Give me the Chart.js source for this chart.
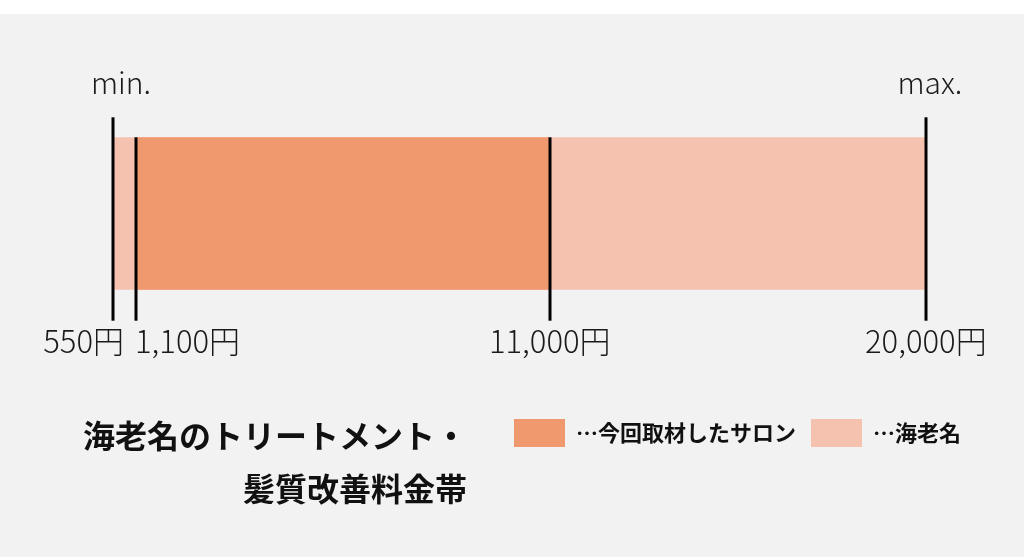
<!DOCTYPE html>
<html lang="ja">
<head>
<meta charset="utf-8">
<title>海老名のトリートメント・髪質改善料金帯</title>
<script src="https://cdn.jsdelivr.net/npm/chart.js@4/dist/chart.umd.min.js"></script>
<style>
  html, body { margin: 0; padding: 0; background: #ffffff; }
  #chart { display: block; }
</style>
</head>
<body>
<canvas id="chart" width="1024" height="557"></canvas>
<script>
// ---- データ ----
const seriesNames = ["…今回取材したサロン", "…海老名"];
const salonRange = [1100, 11000];
const areaRange = [550, 20000];
const tickValues = [550, 1100, 11000, 20000];
const tickLabels = ["550円", "1,100円", "11,000円", "20,000円"];
const endLabels = ["min.", "max."];
const titleLines = ["海老名のトリートメント・", "髪質改善料金帯"];

const JP = '"Noto Sans CJK JP", "Noto Sans", sans-serif';
const DARK = "#f0996f";
const LIGHT = "#f6c2b0";
const BG = "#f2f2f2";

// 背景・目盛り線・ラベル・タイトルを描く
const rangeDecor = {
  id: "rangeDecor",
  beforeDraw(chart) {
    const { ctx, width, height } = chart;
    ctx.save();
    ctx.fillStyle = BG;
    ctx.fillRect(0, 14, width, height - 14);
    ctx.restore();
  },
  afterDatasetsDraw(chart) {
    const { ctx } = chart;
    const xs = chart.scales.x;
    const bar = chart.getDatasetMeta(1).data[0];
    const barTop = bar.y - bar.height / 2;
    const barBottom = bar.y + bar.height / 2;
    const last = tickValues.length - 1;

    ctx.save();
    ctx.strokeStyle = "#000";
    ctx.lineWidth = 3;
    tickValues.forEach((v, i) => {
      const x = Math.round(xs.getPixelForValue(v));
      const isEnd = i === 0 || i === last;
      ctx.beginPath();
      ctx.moveTo(x, isEnd ? barTop - 20 : barTop);
      ctx.lineTo(x, barBottom + 31);
      ctx.stroke();
    });

    // 金額ラベル（左の2つは重ならないようにずらす）
    const aligns = ["right", "left", "center", "center"];
    const shifts = [11, -1, 0, 0];
    ctx.fillStyle = "#1a1a1a";
    ctx.font = "300 31px " + JP;
    ctx.textBaseline = "alphabetic";
    tickValues.forEach((v, i) => {
      ctx.textAlign = aligns[i];
      ctx.fillText(tickLabels[i], xs.getPixelForValue(v) + shifts[i], barBottom + 63);
    });

    // min. / max.
    ctx.font = "300 30px " + JP;
    ctx.textAlign = "center";
    ctx.fillText(endLabels[0], xs.getPixelForValue(tickValues[0]) + 8, barTop - 43);
    ctx.fillText(endLabels[1], xs.getPixelForValue(tickValues[last]) + 4, barTop - 43);

    // タイトル（右揃え2行）
    ctx.font = "bold 32px " + JP;
    ctx.fillStyle = "#111";
    ctx.textAlign = "right";
    ctx.textBaseline = "middle";
    titleLines.forEach((t, i) => ctx.fillText(t, 467, 436 + i * 53));
    ctx.restore();
  },
};

new Chart(document.getElementById("chart"), {
  type: "bar",
  data: {
    labels: ["料金帯"],
    datasets: [
      { label: seriesNames[0], data: [salonRange], backgroundColor: DARK, borderWidth: 0, grouped: false },
      { label: seriesNames[1], data: [areaRange], backgroundColor: LIGHT, borderWidth: 0, grouped: false },
    ],
  },
  options: {
    indexAxis: "y",
    responsive: false,
    animation: false,
    layout: { padding: { left: 90, right: 48, top: 23, bottom: 100 } },
    datasets: { bar: { barPercentage: 1, categoryPercentage: 0.4 } },
    scales: {
      x: { type: "linear", min: 0, max: 21200, display: false },
      y: { display: false },
    },
    plugins: {
      tooltip: { enabled: false },
      legend: {
        position: "bottom",
        align: "end",
        labels: {
          boxWidth: 51,
          boxHeight: 28,
          padding: 15,
          color: "#111",
          font: { family: JP, size: 22, weight: "bold" },
        },
      },
    },
  },
  plugins: [rangeDecor],
});
</script>
</body>
</html>
